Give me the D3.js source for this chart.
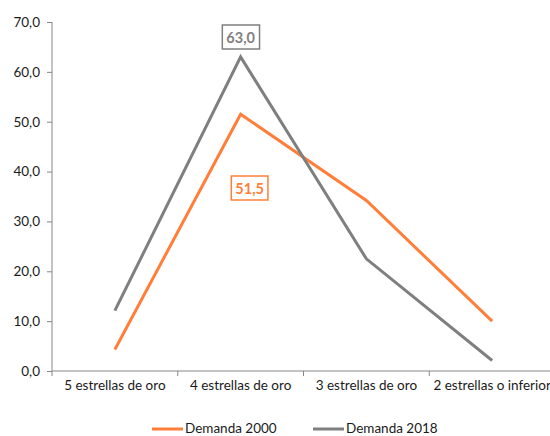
<!DOCTYPE html>
<html><head><meta charset="utf-8">
<script src="https://cdn.jsdelivr.net/npm/d3@7"></script>
<style>body{margin:0;background:#fff}svg{display:block}text{font-family:Lato,"Open Sans",sans-serif}</style>
</head><body><svg id="c" width="550" height="436"></svg>
<script>
const categories = ["5 estrellas de oro","4 estrellas de oro","3 estrellas de oro","2 estrellas o inferior"];
const demanda2000 = [4.3, 51.5, 34.2, 10.0];
const demanda2018 = [12.1, 63.0, 22.5, 2.1];
const yTicks = [0,10,20,30,40,50,60,70];
const seriesNames = ["Demanda 2000","Demanda 2018"];
const colors = ["#FF7F3A","#7F7F7F"];

const svg = d3.select("#c");
const x = d3.scaleBand().domain(categories).range([52,555]);
const y = d3.scaleLinear().domain([0,70]).range([371,22]);
const fmt = v => d3.format(".1f")(v).replace(".",",");

const axisColor = "#868686";
const yAxis = svg.append("g").attr("transform","translate(52,0)")
  .call(d3.axisLeft(y).tickValues(yTicks).tickFormat(fmt).tickSize(5).tickPadding(7));
const xAxis = svg.append("g").attr("transform","translate(0,371)")
  .call(d3.axisBottom(x).tickSize(0).tickPadding(9));
xAxis.selectAll(".tick line").remove();
const bounds = [0,1,2,3].map(i=>52 + i*x.step());
xAxis.selectAll(".bt").data(bounds).enter().append("line")
  .attr("x1",d=>d).attr("x2",d=>d).attr("y1",0).attr("y2",5).attr("stroke",axisColor);
[yAxis,xAxis].forEach(g=>{
  g.select(".domain").attr("stroke",axisColor).attr("stroke-width",1);
  g.selectAll(".tick line").attr("stroke",axisColor);
  g.selectAll("text").attr("fill","#1a1a1a").style("font-size","13.5px").style("font-family","Lato, 'Open Sans', sans-serif");
});
yAxis.select(".domain").attr("d","M0,22V371");
xAxis.select(".domain").attr("d","M52,0H555");

const cx = d => x(d) + x.bandwidth()/2;
const line = d3.line().x((d,i)=>cx(categories[i])).y(d=>y(d));
[demanda2000, demanda2018].forEach((s,k)=>{
  svg.append("path").datum(s).attr("d",line).attr("fill","none")
    .attr("stroke",colors[k]).attr("stroke-width",3).attr("stroke-linejoin","miter");
});

function label(text, cxp, cyp, color){
  const g = svg.append("g");
  const t = g.append("text").attr("x",cxp).attr("y",cyp).attr("text-anchor","middle")
    .attr("dominant-baseline","central").attr("fill",color)
    .style("font-size","14.5px").style("font-weight","bold").text(text);
  const bb = t.node().getBBox();
  g.insert("rect","text").attr("x",bb.x-4).attr("y",cyp-12).attr("width",bb.width+8).attr("height",24)
    .attr("fill","#fff").attr("stroke",color).attr("stroke-width",1.5);
}
label(fmt(demanda2018[1]), cx(categories[1]), 37, "#7F7F7F");
label(fmt(demanda2000[1]), cx(categories[1])+9, 188, "#FF7F3A");

const leg = [{x:152},{x:313}];
seriesNames.forEach((n,i)=>{
  svg.append("line").attr("x1",leg[i].x).attr("x2",leg[i].x+31).attr("y1",429).attr("y2",429)
    .attr("stroke",colors[i]).attr("stroke-width",3);
  svg.append("text").attr("x",leg[i].x+33).attr("y",428).attr("dominant-baseline","central")
    .attr("fill","#1a1a1a").style("font-size","13.5px").text(n);
});
</script></body></html>
